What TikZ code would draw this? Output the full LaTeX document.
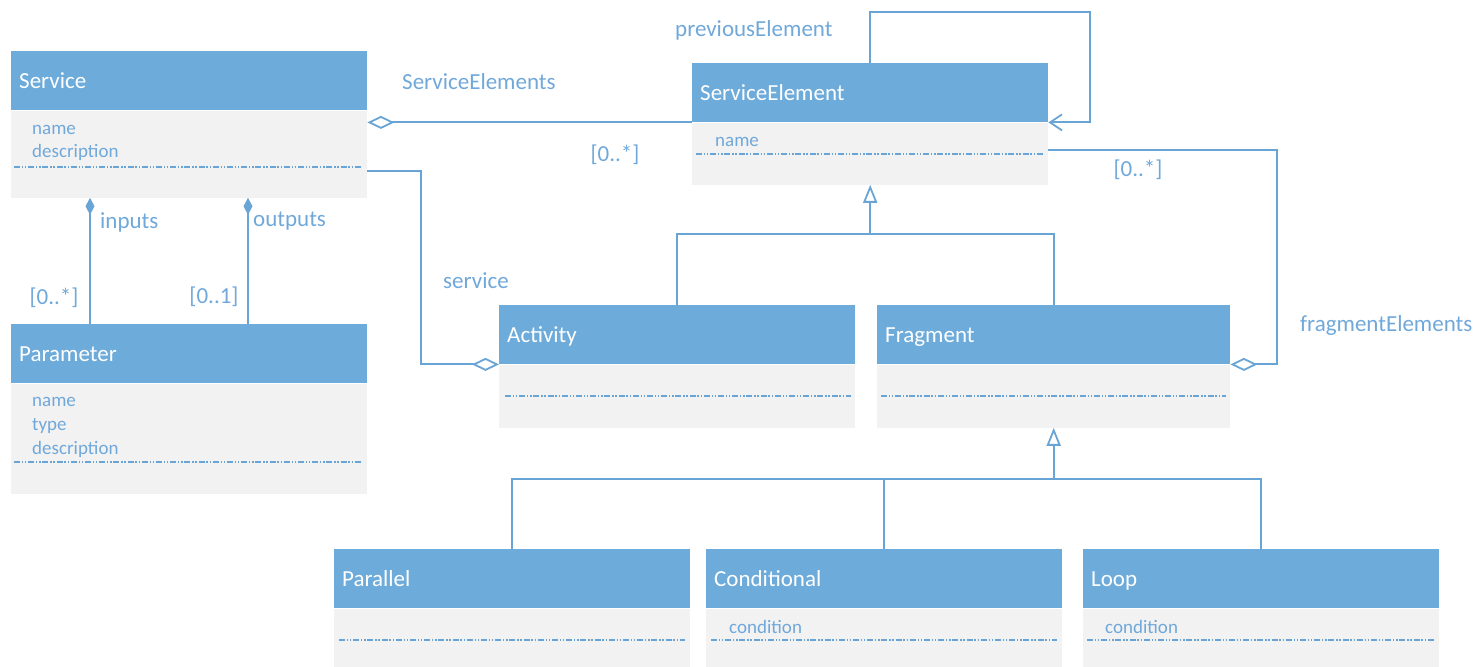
\documentclass[tikz,border=0pt]{standalone}
\usepackage{fontspec}
\setmainfont{Carlito}
\usetikzlibrary{positioning}
\usetikzlibrary{arrows.meta}

\definecolor{hdrblue}{RGB}{109,171,218}
\definecolor{lineblue}{RGB}{104,165,214}
\definecolor{lblblue}{RGB}{112,168,218}
\definecolor{bodygray}{RGB}{242,242,242}

\tikzset{
	hdr/.style={anchor=north west, fill=hdrblue, text=white, minimum height=59pt, text width=340pt, inner xsep=8pt, inner ysep=0pt, align=left, text height=16pt, text depth=0pt, font=\fontsize{23}{27}\selectfont},
	bdy/.style={anchor=north west, fill=bodygray, minimum width=356pt, inner sep=0pt},
	attr/.style={anchor=base west, inner sep=0pt, text=lblblue, font=\fontsize{19}{22}\selectfont},
	lbl/.style={inner sep=0pt, text=lblblue, font=\fontsize{23}{27}\selectfont},
	dotline/.style={lineblue, line width=0.65pt, dash pattern=on 3pt off 0.9pt on 0.7pt off 0.9pt on 0.7pt off 0.9pt},
	assoc/.style={lineblue, line width=0.9pt},
	agg/.style={assoc, {Diamond[open, length=13.5pt, width=6.5pt]}-},
	comp/.style={assoc, {Diamond[length=8.5pt, width=4.5pt]}-},
	gen/.style={assoc, -{Triangle[open, length=9pt, width=7pt]}}
}

\begin{document}
\begin{tikzpicture}[x=1pt, y=-1pt, scale=0.5, every node/.style={scale=0.5}]
				
				\useasboundingbox (0,0) rectangle (1478,667);
				
				\node[hdr] (Service) at (11,51) {Service};
				\node[bdy, minimum height=87pt] (ServiceB) at (Service.south west) {};
				\node[attr] (ServiceN) at (32,135) {name};
				\node[attr] (ServiceD) at (32,158) {description};
				\draw[dotline] (14,167) -- (362,167);
				
				\node[hdr] (Parameter) at (11,324) {Parameter};
				\node[bdy, minimum height=110pt] (ParameterB) at (Parameter.south west) {};
				\node[attr] (ParameterN) at (32,407) {name};
				\node[attr] (ParameterT) at (32,431) {type};
				\node[attr] (ParameterD) at (32,455) {description};
				\draw[dotline] (14,462) -- (362,462);
				
				\node[hdr] (SE) at (692,63) {ServiceElement};
				\node[bdy, minimum height=62pt] (SEB) at (SE.south west) {};
				\node[attr] (SEN) at (715,147) {name};
				\draw[dotline] (696,154) -- (1043,154);
				
				\node[hdr] (Activity) at (499,305) {Activity};
				\node[bdy, minimum height=63pt] (ActivityB) at (Activity.south west) {};
				\draw[dotline] (505,396) -- (851,396);
				
				\node[hdr, text width=337pt] (Fragment) at (877,305) {Fragment};
				\node[bdy, minimum width=353pt, minimum height=63pt] (FragmentB) at (Fragment.south west) {};
				\draw[dotline] (881,396) -- (1226,396);
				
				\node[hdr] (Parallel) at (334,549) {Parallel};
				\node[bdy, minimum height=60pt] (ParallelB) at (Parallel.south west) {};
				\draw[dotline] (339,640) -- (685,640);
				
				\node[hdr] (Conditional) at (706,549) {Conditional};
				\node[bdy, minimum height=60pt] (ConditionalB) at (Conditional.south west) {};
				\node[attr] (ConditionalC) at (729,633) {condition};
				\draw[dotline] (711,640) -- (1057,640);
				
				\node[hdr] (Loop) at (1083,549) {Loop};
				\node[bdy, minimum height=60pt] (LoopB) at (Loop.south west) {};
				\node[attr] (LoopC) at (1105,633) {condition};
				\draw[dotline] (1087,640) -- (1434,640);
				
				\coordinate (loopC) at (1090,12);
				\coordinate (fragC) at (1277,150);
				\coordinate (svcC) at (421,171);
				\coordinate (inX) at (90,0);
				\coordinate (outX) at (248,0);
				\coordinate (genA) at (0,234);
				\coordinate (genB) at (0,479);
				
				\draw[agg] (ServiceB.east |- SEB.north west) -- (SEB.north west);
				\draw[assoc, -{Straight Barb[length=6pt, width=8pt]}] (SE.north) |- (loopC) |- (SEB.north east);
				\draw[agg] (FragmentB.north east) -| (fragC) -- (SEB.east |- fragC);
				\draw[agg] (ActivityB.north west) -| (svcC) -- (ServiceB.east |- svcC);
				
				\draw[comp] (ServiceB.south -| inX) -- (Parameter.north -| inX);
				\draw[comp] (ServiceB.south -| outX) -- (Parameter.north -| outX);
				
				\draw[assoc] (Activity.north) |- (Fragment.north |- genA) -- (Fragment.north);
				\draw[gen] (SE.south |- genA) -- (SEB.south);
				
				\draw[assoc] (Parallel.north) |- (Loop.north |- genB) -- (Loop.north);
				\draw[assoc] (Conditional.north) -- (Conditional.north |- genB);
				\draw[gen] (Fragment.south |- genB) -- (FragmentB.south);
				
				\node[lbl, anchor=west] (SElabel) at (402,82) {ServiceElements};
				\node[lbl] (SEmult) at (615,155) {[0..*]};
				\node[lbl, anchor=west] (prevLabel) at (675,30) {previousElement};
				\node[lbl] (fragMult) at (1138,170) {[0..*]};
				\node[lbl, anchor=west] (fragLabel) at (1300,325) {fragmentElements};
				\node[lbl, anchor=west] (svcLabel) at (443,281) {service};
				\node[lbl, anchor=west] (inLabel) at (100,222) {inputs};
				\node[lbl, anchor=west] (outLabel) at (253,221) {outputs};
				\node[lbl] (inMult) at (54,298) {[0..*]};
				\node[lbl] (outMult) at (214,297) {[0..1]};
				
			\end{tikzpicture}
\end{document}
